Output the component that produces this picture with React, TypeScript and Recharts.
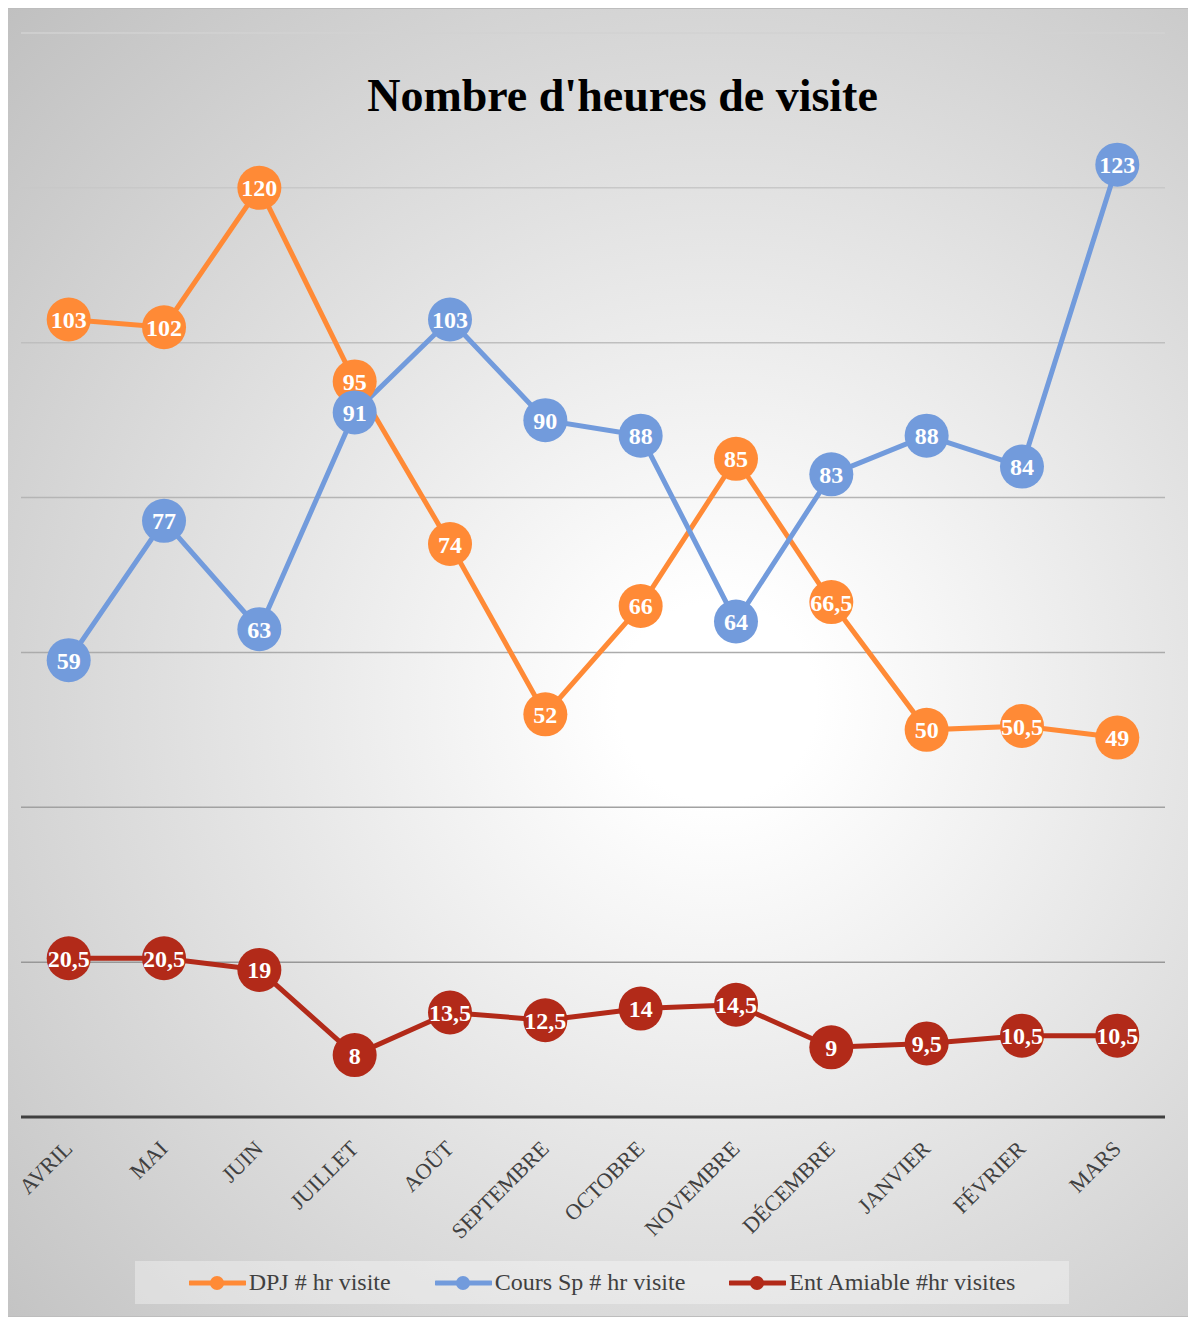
import React from "react";
import { LineChart, Line, XAxis, YAxis, CartesianGrid, LabelList } from "recharts";

const MONTHS = ["AVRIL", "MAI", "JUIN", "JUILLET", "AOÛT", "SEPTEMBRE", "OCTOBRE", "NOVEMBRE", "DÉCEMBRE", "JANVIER", "FÉVRIER", "MARS"];
const DPJ = [103, 102, 120, 95, 74, 52, 66, 85, 66.5, 50, 50.5, 49];
const COURS = [59, 77, 63, 91, 103, 90, 88, 64, 83, 88, 84, 123];
const ENT = [20.5, 20.5, 19, 8, 13.5, 12.5, 14, 14.5, 9, 9.5, 10.5, 10.5];
const Y_TICKS = [0, 20, 40, 60, 80, 100, 120, 140];

const SERIES = [
  { key: "dpj", name: "DPJ # hr visite", color: "#FF8A36" },
  { key: "cours", name: "Cours Sp # hr visite", color: "#729BDC" },
  { key: "ent", name: "Ent Amiable #hr visites", color: "#B22A19" },
];

const data = MONTHS.map((m, i) => ({ month: m, dpj: DPJ[i], cours: COURS[i], ent: ENT[i] }));

const FONT = "'Liberation Serif', 'DejaVu Serif', serif";

const fmt = (v: any) => String(v).replace(".", ",");

function MonthTick(props: any) {
  const { x, y, payload } = props;
  const ax = x + 5;
  const ay = y + 33;
  return (
    <text
      x={ax}
      y={ay}
      transform={`rotate(-45 ${ax} ${ay})`}
      textAnchor="end"
      fill="#404040"
      fontSize={22}
      fontFamily={FONT}
    >
      {payload.value}
    </text>
  );
}

export default function App() {
  return (
    <div
      style={{
        position: "relative",
        marginLeft: -2,
        width: 1185,
        height: 1309,
        boxSizing: "border-box",
        border: "1px solid #bdbdbd",
        background: "radial-gradient(circle farthest-corner at 60% 53%, #ffffff 10%, #c0c0c0 100%)",
        fontFamily: FONT,
      }}
    >
      <div
        style={{
          position: "absolute",
          left: 0,
          top: 64,
          width: 1231,
          textAlign: "center",
          fontSize: 46,
          lineHeight: "46px",
          fontWeight: "bold",
          color: "#000",
        }}
      >
        Nombre d'heures de visite
      </div>
      <div style={{ position: "absolute", left: 0, top: 0 }}>
        <LineChart width={1183} height={1307} data={data} margin={{ top: 24, left: 14, right: 25, bottom: 0 }}>
          <defs>
            <linearGradient id="gridGrad" gradientUnits="userSpaceOnUse" x1="0" y1="24" x2="0" y2="1108">
              <stop offset="0%" stopColor="#d2d2d2" />
              <stop offset="100%" stopColor="#8e8e8e" />
            </linearGradient>
          </defs>
          <CartesianGrid vertical={false} stroke="url(#gridGrad)" strokeWidth={1.5} />
          <XAxis
            dataKey="month"
            height={199}
            tickSize={0}
            tickMargin={0}
            tickLine={false}
            padding={{ left: 47.7, right: 47.7 }}
            axisLine={{ stroke: "#404040", strokeWidth: 3 }}
            tick={<MonthTick />}
            interval={0}
          />
          <YAxis hide domain={[0, 140]} ticks={Y_TICKS} />
          {SERIES.map((s) => (
            <Line
              key={s.key}
              dataKey={s.key}
              name={s.name}
              stroke={s.color}
              strokeWidth={5}
              dot={{ r: 22, fill: s.color, stroke: "none" }}
              activeDot={false}
              isAnimationActive={false}
            >
              <LabelList
                dataKey={s.key}
                position="center"
                formatter={fmt}
                fill="#ffffff"
                fontSize={24}
                fontWeight="bold"
                fontFamily={FONT}
              />
            </Line>
          ))}
        </LineChart>
      </div>
      <div
        style={{
          position: "absolute",
          left: 128,
          top: 1252,
          width: 934,
          height: 43,
          background: "rgba(255,255,255,0.35)",
          display: "flex",
          alignItems: "center",
          justifyContent: "center",
          gap: 44,
        }}
      >
        {SERIES.map((s) => (
          <div key={s.key} style={{ display: "flex", alignItems: "center" }}>
            <svg width={57} height={16} style={{ marginRight: 3 }}>
              <line x1={1} y1={8} x2={56} y2={8} stroke={s.color} strokeWidth={5} strokeLinecap="round" />
              <circle cx={28} cy={8} r={7} fill={s.color} />
            </svg>
            <span style={{ fontSize: 24, color: "#404040", whiteSpace: "nowrap" }}>{s.name}</span>
          </div>
        ))}
      </div>
    </div>
  );
}
